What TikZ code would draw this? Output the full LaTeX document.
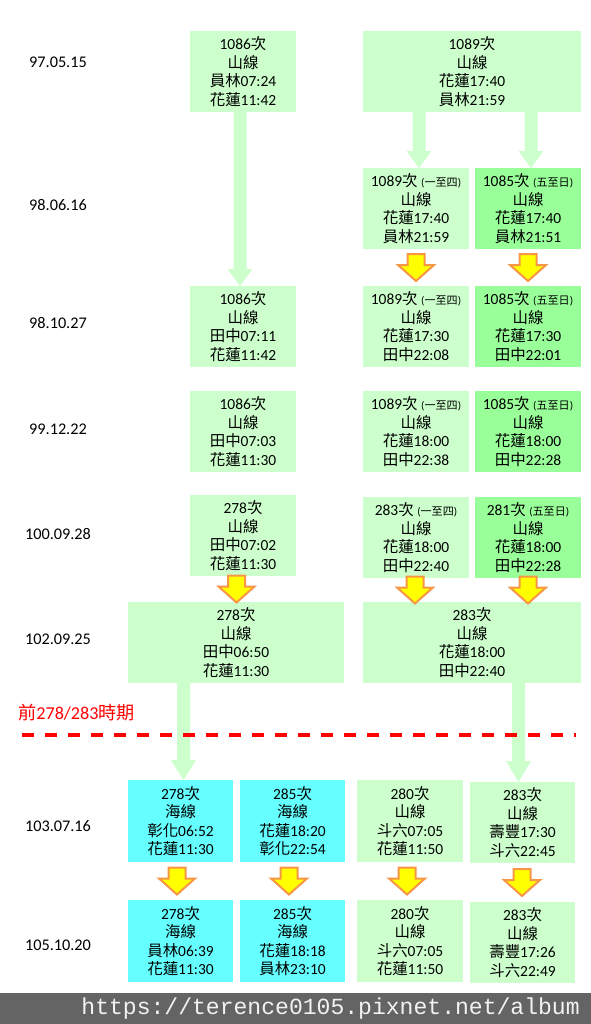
\documentclass[tikz,border=0pt]{standalone}
\usepackage{fontspec}
\setmainfont{Carlito}
\newfontfamily\zhfont{Noto Sans CJK TC}
\newfontfamily\urlfont{Liberation Mono}
\usetikzlibrary{calc}
\definecolor{lgreen}{HTML}{CCFFCC}
\definecolor{dgreen}{HTML}{99FF99}
\definecolor{cyanbox}{HTML}{66FFFF}
\definecolor{yfill}{HTML}{FFFF00}
\definecolor{oborder}{HTML}{F79646}
\definecolor{barc}{HTML}{646464}
\definecolor{urlc}{HTML}{F2F2F2}
\newcommand\zh[1]{{\zhfont #1}}
\newcommand\sm[1]{{\fontsize{8.3pt}{8.3pt}\selectfont(\zh{#1})}}
\newcommand\tbox[7]{\node[tb,fill=#2,minimum width={(#5-#3)*0.75pt},minimum height={(#6-#4)*0.75pt}] (#1) at ({(#3+#5)/2},{(#4+#6)/2}) {#7};}
\newcommand\garr[4]{%
 \coordinate (gs) at (#1.south -| #3,0);
 \coordinate (ge) at (#2.north -| #3,0);
 \fill[garrow] ($(gs)+(-6.5,0)$) -- ($(ge)+(-6.5,-#4)$) -- ($(ge)+(-12.5,-#4)$) -- (ge) -- ($(ge)+(12.5,-#4)$) -- ($(ge)+(6.5,-#4)$) -- ($(gs)+(6.5,0)$) -- cycle;}
\newcommand\yarr[3]{%
 \coordinate (ya) at (#1.south -| #3,0);
 \coordinate (yb) at (#2.north -| #3,0);
 \coordinate (ym) at ($(ya)!0.5!(yb)$);
 \draw[yarrow] ($(ym)+(-8.5,-13.5)$) -- ($(ym)+(-8.5,-2.5)$) -- ($(ym)+(-18,-2.5)$) -- ($(ym)+(0,13.5)$) -- ($(ym)+(18,-2.5)$) -- ($(ym)+(8.5,-2.5)$) -- ($(ym)+(8.5,-13.5)$) -- cycle;}
\begin{document}
\begin{tikzpicture}[x=0.75pt,y=-0.75pt,
  tb/.style={inner sep=0pt,outer sep=0pt,align=center,text=black,font=\fontsize{11.6pt}{13.9pt}\selectfont},
  datel/.style={inner sep=0pt,text=black,font=\fontsize{12.2pt}{12.2pt}\selectfont},
  garrow/.style={fill=lgreen},
  yarrow/.style={fill=yfill,draw=oborder,line width=1.5pt,line join=miter}]
\useasboundingbox (0,0) rectangle (591,1024);
\fill[white] (0,0) rectangle (591,1024);
% dates
\node[datel] (d1) at (58,62) {97.05.15};
\node[datel] (d2) at (58,205) {98.06.16};
\node[datel] (d3) at (58,323) {98.10.27};
\node[datel] (d4) at (58,429) {99.12.22};
\node[datel] (d5) at (58,534) {100.09.28};
\node[datel] (d6) at (58,639) {102.09.25};
\node[datel] (d7) at (58,826) {103.07.16};
\node[datel] (d8) at (58,945) {105.10.20};
% boxes
\tbox{A1}{lgreen}{190}{31}{296}{112}{1086\zh{次}\\\zh{山線}\\\zh{員林}07:24\\\zh{花蓮}11:42}
\tbox{B1}{lgreen}{363}{31}{581}{112}{1089\zh{次}\\\zh{山線}\\\zh{花蓮}17:40\\\zh{員林}21:59}
\tbox{C1}{lgreen}{363}{168}{469}{249}{1089\zh{次} \sm{一至四}\\\zh{山線}\\\zh{花蓮}17:40\\\zh{員林}21:59}
\tbox{D1}{dgreen}{475}{168}{581}{249}{1085\zh{次} \sm{五至日}\\\zh{山線}\\\zh{花蓮}17:40\\\zh{員林}21:51}
\tbox{A3}{lgreen}{190}{286}{296}{367}{1086\zh{次}\\\zh{山線}\\\zh{田中}07:11\\\zh{花蓮}11:42}
\tbox{C3}{lgreen}{363}{286}{469}{367}{1089\zh{次} \sm{一至四}\\\zh{山線}\\\zh{花蓮}17:30\\\zh{田中}22:08}
\tbox{D3}{dgreen}{475}{286}{581}{367}{1085\zh{次} \sm{五至日}\\\zh{山線}\\\zh{花蓮}17:30\\\zh{田中}22:01}
\tbox{A4}{lgreen}{190}{391}{296}{472}{1086\zh{次}\\\zh{山線}\\\zh{田中}07:03\\\zh{花蓮}11:30}
\tbox{C4}{lgreen}{363}{391}{469}{472}{1089\zh{次} \sm{一至四}\\\zh{山線}\\\zh{花蓮}18:00\\\zh{田中}22:38}
\tbox{D4}{dgreen}{475}{391}{581}{472}{1085\zh{次} \sm{五至日}\\\zh{山線}\\\zh{花蓮}18:00\\\zh{田中}22:28}
\tbox{A5}{lgreen}{190}{495}{296}{576}{278\zh{次}\\\zh{山線}\\\zh{田中}07:02\\\zh{花蓮}11:30}
\tbox{C5}{lgreen}{363}{497}{469}{578}{283\zh{次} \sm{一至四}\\\zh{山線}\\\zh{花蓮}18:00\\\zh{田中}22:40}
\tbox{D5}{dgreen}{475}{497}{581}{578}{281\zh{次} \sm{五至日}\\\zh{山線}\\\zh{花蓮}18:00\\\zh{田中}22:28}
\tbox{A6}{lgreen}{128}{602}{344}{683}{278\zh{次}\\\zh{山線}\\\zh{田中}06:50\\\zh{花蓮}11:30}
\tbox{E6}{lgreen}{363}{602}{581}{683}{283\zh{次}\\\zh{山線}\\\zh{花蓮}18:00\\\zh{田中}22:40}
\tbox{F7}{cyanbox}{128}{780}{233}{862}{278\zh{次}\\\zh{海線}\\\zh{彰化}06:52\\\zh{花蓮}11:30}
\tbox{G7}{cyanbox}{240}{780}{345}{862}{285\zh{次}\\\zh{海線}\\\zh{花蓮}18:20\\\zh{彰化}22:54}
\tbox{H7}{lgreen}{357}{780}{463}{862}{280\zh{次}\\\zh{山線}\\\zh{斗六}07:05\\\zh{花蓮}11:50}
\tbox{I7}{lgreen}{470}{782}{575}{863}{283\zh{次}\\\zh{山線}\\\zh{壽豐}17:30\\\zh{斗六}22:45}
\tbox{F8}{cyanbox}{128}{900}{233}{982}{278\zh{次}\\\zh{海線}\\\zh{員林}06:39\\\zh{花蓮}11:30}
\tbox{G8}{cyanbox}{240}{900}{345}{982}{285\zh{次}\\\zh{海線}\\\zh{花蓮}18:18\\\zh{員林}23:10}
\tbox{H8}{lgreen}{357}{900}{463}{982}{280\zh{次}\\\zh{山線}\\\zh{斗六}07:05\\\zh{花蓮}11:50}
\tbox{I8}{lgreen}{470}{902}{575}{983}{283\zh{次}\\\zh{山線}\\\zh{壽豐}17:26\\\zh{斗六}22:49}
% green arrows
\garr{A1}{A3}{240}{17}
\garr{B1}{C1}{419}{17}
\garr{B1}{D1}{531}{17}
\garr{A6}{F7}{183.5}{20}
\garr{E6}{I7}{518.5}{21}
% yellow arrows
\yarr{C1}{C3}{416}
\yarr{D1}{D3}{528}
\yarr{A5}{A6}{236.5}
\yarr{C5}{E6}{415}
\yarr{D5}{E6}{528}
\yarr{F7}{F8}{177}
\yarr{G7}{G8}{289}
\yarr{H7}{H8}{407}
\yarr{I7}{I8}{522}
% separator
\coordinate (sepL) at (22,735);
\coordinate (sepR) at (576,735);
\draw[red,line width=3pt,dash pattern=on 9pt off 8.25pt] (sepL) -- (sepR);
\node[anchor=west,inner sep=0pt,text=red,font=\fontsize{13.6pt}{13.6pt}\selectfont] (era) at (18,713) {\zh{前}278/283\zh{時期}};
% bottom bar
\node[fill=barc,minimum width={591*0.75pt},minimum height={31*0.75pt},inner sep=0pt,outer sep=0pt,anchor=south west] (bar) at (0,1024) {};
\node[anchor=east,inner sep=0pt,text=urlc,font=\urlfont\fontsize{17.3pt}{17.3pt}\selectfont] (url) at (580,1009) {https://terence0105.pixnet.net/album};
\end{tikzpicture}
\end{document}
